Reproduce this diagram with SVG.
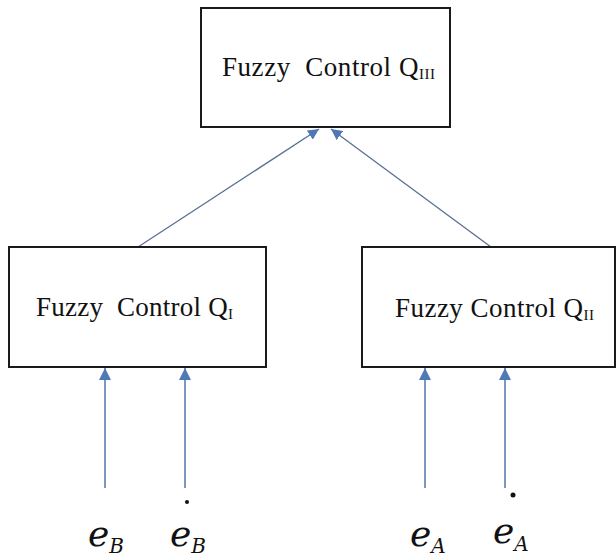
<svg xmlns="http://www.w3.org/2000/svg" width="616" height="558" viewBox="0 0 616 558">
<style>
.box{fill:#fff;stroke:#1a1a1a;stroke-width:2}
.t{font-family:"Liberation Serif","Times New Roman",serif;font-size:27px;fill:#111;white-space:pre}
.sub{font-size:15px}
.up{stroke:#5a6f96;stroke-width:1.3;fill:none}
.in{stroke:#7d97c4;stroke-width:2;fill:none}
.v{font-family:"DejaVu Serif",serif;font-style:italic;fill:#111;font-size:36px}
.vs{font-size:20px}
</style>
<defs>
<marker id="ah" viewBox="0 0 10 10" refX="10" refY="5" markerWidth="11" markerHeight="11" markerUnits="userSpaceOnUse" orient="auto">
<path d="M0,0 L10,5 L0,10 Z" fill="#4f78b8"/>
</marker>
<marker id="ah2" viewBox="0 0 10 10" refX="10" refY="5" markerWidth="14" markerHeight="12" markerUnits="userSpaceOnUse" orient="auto">
<path d="M0,0 L10,5 L0,10 Z" fill="#4f78b8"/>
</marker>
</defs>
<g id="connectors">
<line class="up" x1="138" y1="247" x2="319" y2="129" marker-end="url(#ah)"/>
<line class="up" x1="491" y1="247" x2="331" y2="129" marker-end="url(#ah)"/>
<line class="in" x1="105" y1="488" x2="105" y2="368" marker-end="url(#ah2)"/>
<line class="in" x1="185" y1="488" x2="185" y2="368" marker-end="url(#ah2)"/>
<line class="in" x1="425" y1="488" x2="425" y2="368" marker-end="url(#ah2)"/>
<line class="in" x1="505" y1="488" x2="505" y2="368" marker-end="url(#ah2)"/>
</g>
<g id="node-q3">
<rect class="box" x="201" y="8" width="249" height="119"/>
<text class="t" x="222" y="76" textLength="213" lengthAdjust="spacing">Fuzzy  Control Q<tspan class="sub" dy="3">III</tspan></text>
</g>
<g id="node-q1">
<rect class="box" x="9" y="247" width="257" height="120"/>
<text class="t" x="36" y="316" textLength="197" lengthAdjust="spacing">Fuzzy  Control Q<tspan class="sub" dy="3">I</tspan></text>
</g>
<g id="node-q2">
<rect class="box" x="362" y="247" width="253" height="120"/>
<text class="t" x="395" y="317" textLength="199" lengthAdjust="spacing">Fuzzy Control Q<tspan class="sub" dy="3">II</tspan></text>
</g>
<g id="inputs">
<text class="v" x="88" y="546">e<tspan class="vs" dy="7">B</tspan></text>
<text class="v" x="170" y="546">e<tspan class="vs" dy="7">B</tspan></text>
<circle cx="187" cy="502" r="2" fill="#111"/>
<text class="v" x="410" y="546">e<tspan class="vs" dy="7">A</tspan></text>
<text class="v" x="493" y="543">e<tspan class="vs" dy="8">A</tspan></text>
<circle cx="513" cy="495" r="2.5" fill="#111"/>
</g>
</svg>
